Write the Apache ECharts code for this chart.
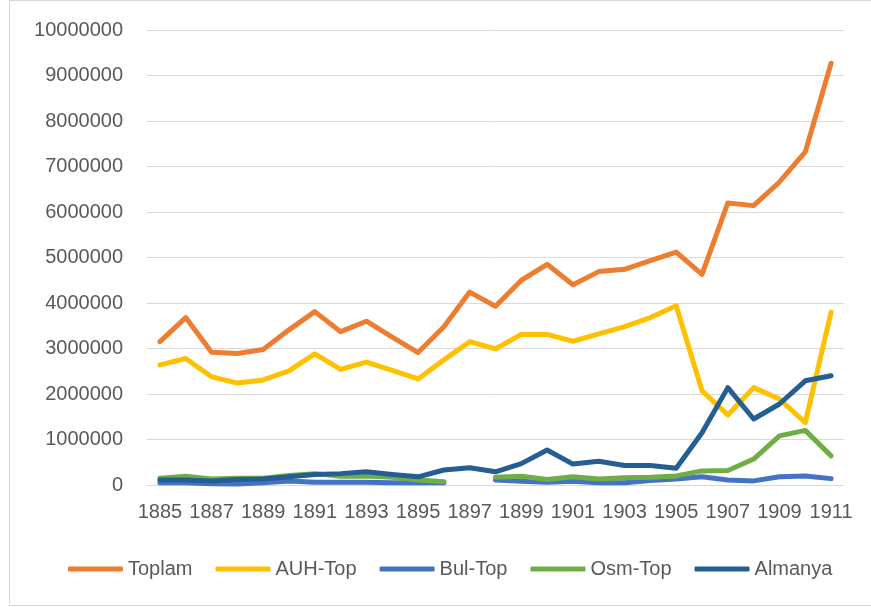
<!DOCTYPE html>
<html>
<head>
<meta charset="utf-8">
<script src="https://cdn.jsdelivr.net/npm/echarts@6/dist/echarts.min.js"></script>
<style>
  html, body { margin: 0; padding: 0; background: #fff; }
  #frame { position: absolute; left: 9px; top: 0; width: 900px; height: 606px; border: 1.5px solid #d9d9d9; box-sizing: border-box; }
  #chart { position: absolute; left: 0; top: 0; width: 871px; height: 607px; }
</style>
</head>
<body>
<div id="frame"></div>
<div id="chart"></div>
<script>
// yillar
var years = ['1885', '1886', '1887', '1888', '1889', '1890', '1891', '1892', '1893', '1894',
  '1895', '1896', '1897', '1898', '1899', '1900', '1901', '1902', '1903', '1904',
  '1905', '1906', '1907', '1908', '1909', '1910', '1911'];

var toplam = [3150000, 3680000, 2920000, 2890000, 2980000, 3410000, 3810000, 3370000, 3600000, 3250000,
  2910000, 3480000, 4240000, 3930000, 4500000, 4850000, 4400000, 4690000, 4740000, 4930000,
  5120000, 4630000, 6200000, 6140000, 6660000, 7320000, 9270000];

var auhTop = [2640000, 2780000, 2380000, 2240000, 2310000, 2510000, 2880000, 2540000, 2700000, 2520000,
  2330000, 2750000, 3150000, 2990000, 3310000, 3310000, 3160000, 3320000, 3480000, 3680000,
  3940000, 2070000, 1540000, 2140000, 1890000, 1370000, 3800000];

var bulTop = [50000, 50000, 30000, 20000, 50000, 90000, 60000, 60000, 60000, 50000,
  50000, 50000, null, 110000, 80000, 60000, 80000, 50000, 50000, 100000,
  130000, 180000, 110000, 90000, 180000, 200000, 140000];

var osmTop = [150000, 190000, 130000, 150000, 150000, 210000, 250000, 190000, 200000, 170000,
  110000, 70000, null, 170000, 190000, 120000, 180000, 130000, 160000, 170000,
  200000, 310000, 320000, 570000, 1080000, 1200000, 640000];

var almanya = [110000, 110000, 90000, 120000, 130000, 180000, 230000, 250000, 290000, 230000,
  180000, 330000, 380000, 290000, 470000, 770000, 460000, 520000, 430000, 430000,
  370000, 1150000, 2140000, 1450000, 1780000, 2290000, 2400000];

var names = ['Toplam', 'AUH-Top', 'Bul-Top', 'Osm-Top', 'Almanya'];
var colors = ['#ED7D31', '#FFC000', '#4472C4', '#70AD47', '#255E91'];
var values = [toplam, auhTop, bulTop, osmTop, almanya];

var font = "'Liberation Sans', Arial, sans-serif";

var myChart = echarts.init(document.getElementById('chart'));
var option = {
  animation: false,
  color: colors,
  grid: { left: 147, right: 27, top: 30, bottom: 122 },
  legend: {
    data: names,
    bottom: 23,
    left: 63,
    icon: 'roundRect',
    itemWidth: 55,
    itemHeight: 5,
    itemGap: 23,
    textStyle: { color: '#595959', fontSize: 20, fontFamily: font }
  },
  xAxis: {
    type: 'category',
    data: years,
    boundaryGap: true,
    axisLine: { show: true, lineStyle: { color: '#d9d9d9', width: 1 } },
    axisTick: { show: false },
    axisLabel: {
      interval: function (idx) { return idx % 2 === 0; },
      showMinLabel: true,
      showMaxLabel: true,
      hideOverlap: false,
      color: '#595959', fontSize: 20, fontFamily: font, margin: 17
    }
  },
  yAxis: {
    type: 'value',
    min: 0,
    max: 10000000,
    interval: 1000000,
    axisLine: { show: false },
    axisTick: { show: false },
    splitLine: { lineStyle: { color: '#d9d9d9', width: 1 } },
    axisLabel: {
      color: '#595959', fontSize: 20, fontFamily: font, margin: 24,
      formatter: function (v) { return String(v); }
    }
  },
  series: names.map(function (n, i) {
    return {
      name: n,
      type: 'line',
      data: values[i],
      symbol: 'none',
      connectNulls: false,
      lineStyle: { width: 5, color: colors[i], cap: 'round', join: 'round' },
      itemStyle: { color: colors[i] }
    };
  })
};
myChart.setOption(option);
</script>
</body>
</html>
